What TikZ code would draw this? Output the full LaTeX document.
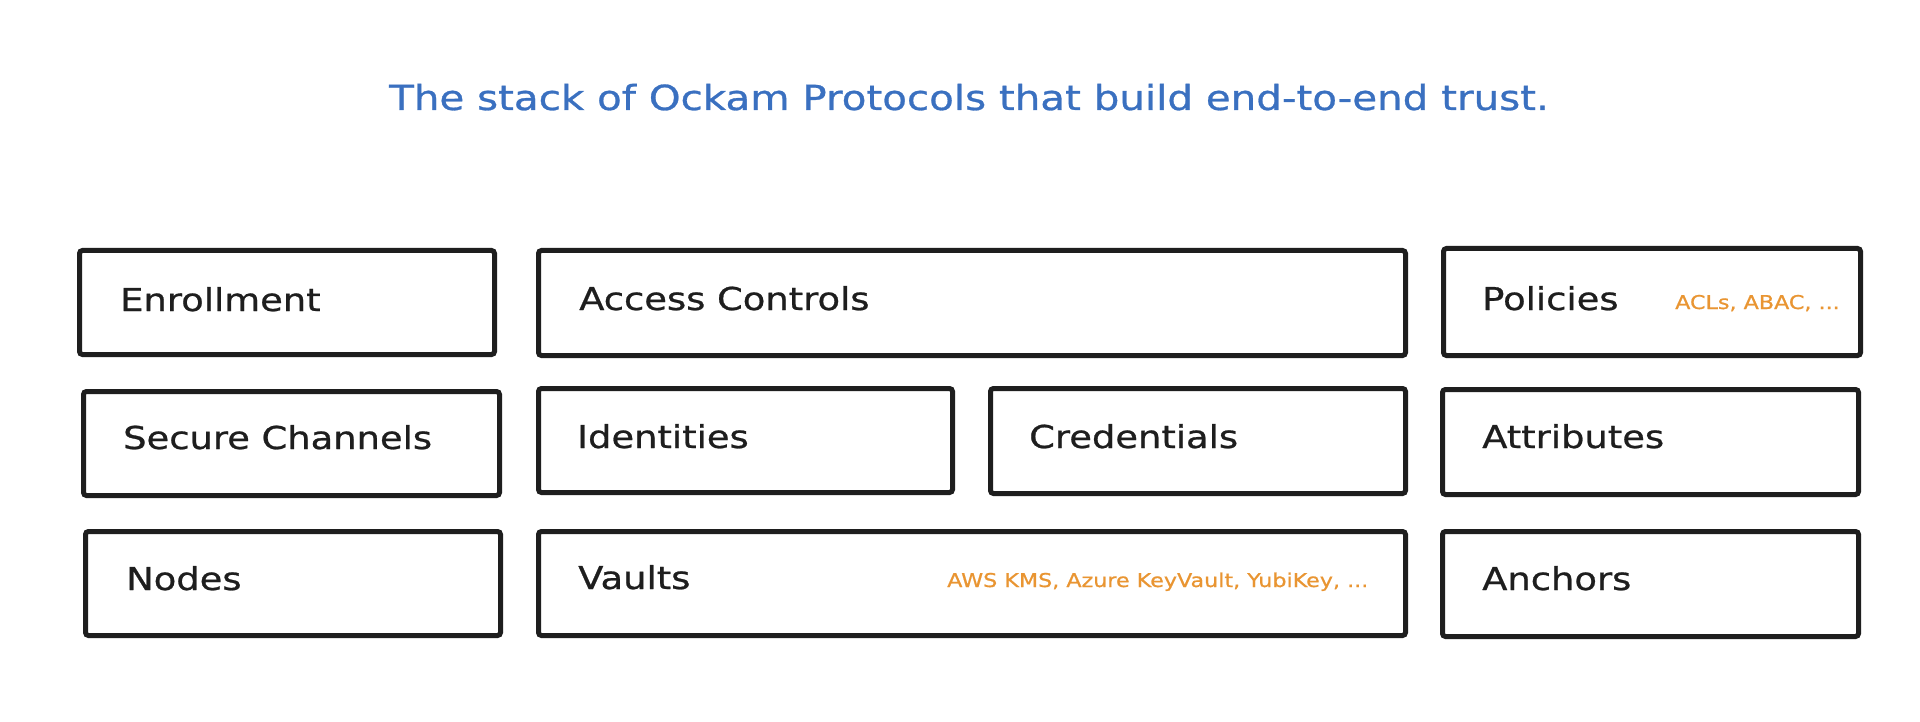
\documentclass[tikz,border=0pt]{standalone}
\usepackage{fontspec}
\setmainfont[FakeStretch=1.17,FakeBold=0.8]{DejaVu Sans}
\definecolor{ink}{HTML}{1E1E1E}
\definecolor{titleblue}{HTML}{3A70C0}
\definecolor{noteorange}{HTML}{E99532}
\tikzset{
  layer/.style={draw=ink, line width=5pt, rounded corners=3pt, inner sep=0pt, anchor=north west},
  lbl/.style={anchor=base west, inner sep=0pt, text=ink, font=\fontsize{31.5}{36}\selectfont},
  note/.style={anchor=base west, inner sep=0pt, text=noteorange, font=\fontsize{19}{23}\selectfont},
  ttl/.style={anchor=base, inner sep=0pt, text=titleblue, font=\fontsize{34.5}{40}\selectfont}
}
\begin{document}
\begin{tikzpicture}[x=1pt,y=-1pt]
\useasboundingbox (0,0) rectangle (1920,722);
\fill[white] (0,0) rectangle (1920,722);
\node[ttl] (title) at (969,110) {The stack of Ockam Protocols that build end-to-end trust.};
% row 1
\node[layer, minimum width=415pt, minimum height=104pt] (enr) at (77,248) {};
\node[layer, minimum width=867pt, minimum height=105pt] (acc) at (536,248) {};
\node[layer, minimum width=417pt, minimum height=107pt] (pol) at (1441,246) {};
% row 2
\node[layer, minimum width=416pt, minimum height=104pt] (sec) at (81,389) {};
\node[layer, minimum width=414pt, minimum height=104pt] (idn) at (536,386) {};
\node[layer, minimum width=415pt, minimum height=105pt] (cre) at (988,386) {};
\node[layer, minimum width=416pt, minimum height=105pt] (att) at (1440,387) {};
% row 3
\node[layer, minimum width=415pt, minimum height=104pt] (nod) at (83,529) {};
\node[layer, minimum width=867pt, minimum height=104pt] (vau) at (536,529) {};
\node[layer, minimum width=416pt, minimum height=105pt] (anc) at (1440,529) {};
% labels
\node[lbl] (tenr) at (120,311) {Enrollment};
\node[lbl] (tacc) at (579,310) {Access Controls};
\node[lbl] (tpol) at (1482,310) {Policies};
\node[note] (npol) at (1675,309) {ACLs, ABAC, ...};
\node[lbl] (tsec) at (123,449) {Secure Channels};
\node[lbl] (tidn) at (577,448) {Identities};
\node[lbl] (tcre) at (1029,448) {Credentials};
\node[lbl] (tatt) at (1482,448) {Attributes};
\node[lbl] (tnod) at (126,590) {Nodes};
\node[lbl] (tvau) at (578,589) {Vaults};
\node[note] (nvau) at (947,587) {AWS KMS, Azure KeyVault, YubiKey, ...};
\node[lbl] (tanc) at (1482,590) {Anchors};
\end{tikzpicture}
\end{document}
